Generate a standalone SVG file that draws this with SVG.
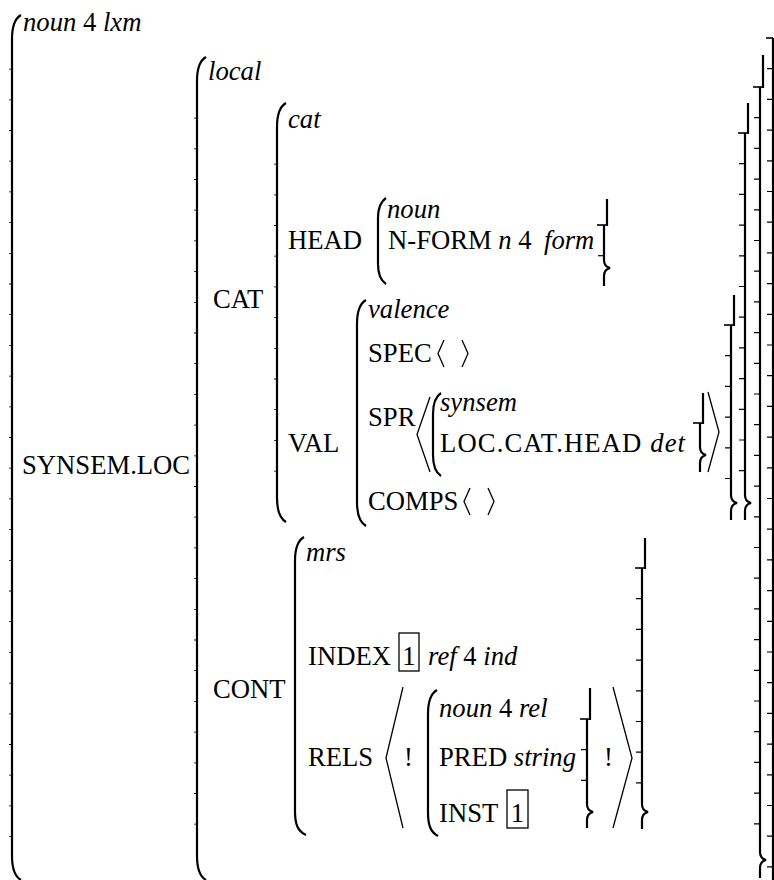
<svg xmlns="http://www.w3.org/2000/svg" width="774" height="880" viewBox="0 0 774 880">
<style>
.t{font-family:"Liberation Serif","Times New Roman",Times,serif;font-size:26.67px;fill:#000}
.i{font-style:italic}
.p{fill:none;stroke:#000;stroke-width:2.2}
.h{fill:none;stroke:#000;stroke-width:2.2}
.hz{stroke:#000;stroke-width:1.6}
.tk{stroke:#000;stroke-width:6;stroke-dasharray:1.2 29.5}
.lt{stroke:#000;stroke-width:2;stroke-dasharray:0.8 29.9}
.ang{fill:none;stroke:#000;stroke-width:1.3}
.bx{fill:none;stroke:#000;stroke-width:1.3}
</style>
<rect width="774" height="880" fill="#fff"/>

<g id="avm-root" font-family="Liberation Serif, Times New Roman, serif">
  <path class="p" d="M21,15 C14,19 12,27 12,39 L12,856 C12,868 14,876 21,880"/>
  <line class="lt" x1="10" y1="68.7" x2="10" y2="850"/>
  <text class="t" x="23" y="31"><tspan class="i">noun</tspan> 4 <tspan class="i">lxm</tspan></text>
  <text class="t" x="22" y="474">SYNSEM.LOC</text>
  <line class="hz" x1="766" y1="38" x2="773" y2="38"/>
  <line class="h" x1="773" y1="38" x2="773" y2="880"/>
  <line class="tk" x1="770" y1="68.1" x2="770" y2="872"/>
</g>

<g id="avm-local" font-family="Liberation Serif, Times New Roman, serif">
  <path class="p" d="M206,57 C199,61 197,69 197,81 L197,856 C197,868 199,876 206,880"/>
  <line class="lt" x1="195" y1="117.7" x2="195" y2="850"/>
  <text class="t i" x="208" y="80">local</text>
  <text class="t" x="213" y="308">CAT</text>
  <text class="t" x="213" y="698">CONT</text>
  <line class="h" x1="763" y1="55" x2="763" y2="88"/>
  <line class="hz" x1="753" y1="87" x2="763" y2="87"/>
  <path class="h" d="M760,87 L760,852 C760,857 762,859 766,860 C762,861 760,863 760,868 L760,878"/>
  <line class="tk" x1="757" y1="117.1" x2="757" y2="848"/>
</g>

<g id="avm-cat" font-family="Liberation Serif, Times New Roman, serif">
  <path class="p" d="M286,103 C279,107 277,115 277,127 L277,498 C277,510 279,518 286,522"/>
  <line class="lt" x1="275" y1="163.7" x2="275" y2="500"/>
  <text class="t i" x="288" y="128">cat</text>
  <text class="t" x="288" y="249">HEAD</text>
  <text class="t" x="288" y="452">VAL</text>
  <line class="h" x1="748" y1="103" x2="748" y2="134"/>
  <line class="hz" x1="738" y1="133" x2="748" y2="133"/>
  <path class="h" d="M745,133 L745,495 C745,500 747,502 751,503 C747,504 745,506 745,511 L745,520"/>
  <line class="tk" x1="742" y1="163.1" x2="742" y2="492"/>
</g>

<g id="avm-head" font-family="Liberation Serif, Times New Roman, serif">
  <path class="p" d="M386,198 C380,202 378,208 378,218 L378,264 C378,274 380,280 386,284"/>
  <text class="t i" x="387" y="218">noun</text>
  <text class="t" x="388" y="249">N-FORM <tspan class="i">n</tspan> 4 <tspan class="i" x="544">form</tspan></text>
  <line class="h" x1="607" y1="199" x2="607" y2="226"/>
  <line class="hz" x1="597" y1="225" x2="607" y2="225"/>
  <path class="h" d="M604,225 L604,260 C604,265 606,267 610,268 C606,269 604,271 604,276 L604,286"/>
  <line class="tk" x1="601" y1="255.1" x2="601" y2="258"/>
</g>

<g id="avm-val" font-family="Liberation Serif, Times New Roman, serif">
  <path class="p" d="M366,300 C359,304 357,312 357,324 L357,502 C357,514 359,522 366,526"/>
  <text class="t i" x="368" y="318">valence</text>
  <text class="t" x="368" y="362">SPEC</text>
  <polyline class="ang" points="444,340 438,353.5 444,367"/>
  <polyline class="ang" points="462,340 468,353.5 462,367"/>
  <text class="t" x="368" y="426">SPR</text>
  <text class="t" x="368" y="510">COMPS</text>
  <polyline class="ang" points="470,488 464,501.5 470,515"/>
  <polyline class="ang" points="488,488 494,501.5 488,515"/>
  <line class="h" x1="734" y1="295" x2="734" y2="326"/>
  <line class="hz" x1="724" y1="325" x2="734" y2="325"/>
  <path class="h" d="M731,325 L731,495 C731,500 733,502 737,503 C733,504 731,506 731,511 L731,520"/>
  <line class="tk" x1="728" y1="355.1" x2="728" y2="492"/>
</g>

<g id="avm-spr" font-family="Liberation Serif, Times New Roman, serif">
  <polyline class="ang" points="430,397 417,434.5 430,472"/>
  <path class="p" d="M441,393 C435,397 433,404 433,414 L433,455 C433,465 435,472 441,476"/>
  <text class="t i" x="440" y="411">synsem</text>
  <text class="t" x="440" y="452" textLength="245" lengthAdjust="spacing">LOC.CAT.HEAD <tspan class="i">det</tspan></text>
  <line class="h" x1="703" y1="393" x2="703" y2="424"/>
  <line class="hz" x1="693" y1="423" x2="703" y2="423"/>
  <path class="h" d="M700,423 L700,447 C700,452 702,454 706,455 C702,456 700,458 700,463 L700,472"/>
  <polyline class="ang" points="708,392 719,432 708,472"/>
</g>

<g id="avm-cont" font-family="Liberation Serif, Times New Roman, serif">
  <path class="p" d="M304,537 C297,541 295,549 295,561 L295,811 C295,823 297,831 306,835"/>
  <text class="t i" x="306" y="561">mrs</text>
  <text class="t" x="308" y="665">INDEX</text>
  <rect class="bx" x="399" y="633" width="20" height="38"/>
  <text class="t" x="409" y="665" text-anchor="middle">1</text>
  <text class="t" x="428" y="665"><tspan class="i">ref</tspan> 4 <tspan class="i">ind</tspan></text>
  <text class="t" x="308" y="766">RELS</text>
  <polyline class="ang" points="403,687 386,758 403,828"/>
  <text class="t" x="404" y="766">!</text>
  <text class="t" x="604" y="766">!</text>
  <polyline class="ang" points="613,687 632,758 613,828"/>
  <line class="h" x1="645" y1="538" x2="645" y2="569"/>
  <line class="hz" x1="635" y1="568" x2="645" y2="568"/>
  <path class="h" d="M642,568 L642,804 C642,809 644,811 648,812 C644,813 642,815 642,820 L642,829"/>
  <line class="tk" x1="639" y1="598.1" x2="639" y2="800"/>
</g>

<g id="avm-rels" font-family="Liberation Serif, Times New Roman, serif">
  <path class="p" d="M437,690 C430,694 428,702 428,714 L428,812 C428,824 430,832 438,836"/>
  <text class="t" x="439" y="717"><tspan class="i">noun</tspan> 4 <tspan class="i">rel</tspan></text>
  <text class="t" x="439" y="766">PRED <tspan class="i">string</tspan></text>
  <text class="t" x="439" y="822">INST</text>
  <rect class="bx" x="507" y="790" width="21" height="38"/>
  <text class="t" x="517.5" y="822" text-anchor="middle">1</text>
  <line class="h" x1="590" y1="688" x2="590" y2="720"/>
  <line class="hz" x1="580" y1="719" x2="590" y2="719"/>
  <path class="h" d="M587,719 L587,804 C587,809 589,811 593,812 C589,813 587,815 587,820 L587,828"/>
  <line class="tk" x1="584" y1="749.1" x2="584" y2="790"/>
</g>
</svg>
